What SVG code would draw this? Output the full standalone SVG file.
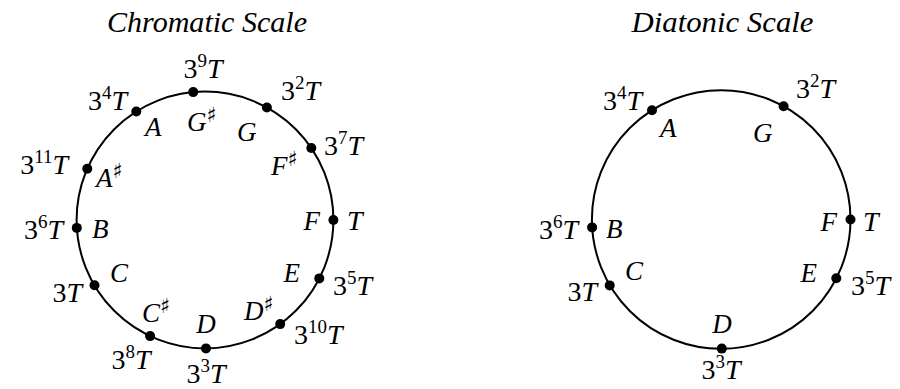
<svg xmlns="http://www.w3.org/2000/svg" width="900" height="389" viewBox="0 0 900 389">
<style>
.title{font-style:italic;font-size:29px;fill:#000;text-anchor:middle}
.p{font-size:28px;fill:#000}
.n{font-style:italic;font-size:27px;fill:#000}
.it{font-style:italic}
.sup{font-size:19px;font-style:normal}
.sh{font-family:"DejaVu Serif","DejaVu Sans",serif;font-size:21px;font-style:normal;fill:#000}
.ring{fill:none;stroke:#000;stroke-width:2}
.dot{fill:#000}
.m{text-anchor:middle}
.e{text-anchor:end}
</style>
<rect width="900" height="389" fill="#fff"/>
<g font-family="Liberation Serif, Times New Roman, Times, serif">
<text class="title" x="207" y="32" textLength="200" lengthAdjust="spacingAndGlyphs">Chromatic Scale</text>
<text class="title" x="722.5" y="32" textLength="182" lengthAdjust="spacingAndGlyphs">Diatonic Scale</text>
<g id="connectors">
<circle class="ring" cx="205" cy="220" r="128.4"/>
<circle class="ring" cx="721.2" cy="219.5" r="129.3"/>
</g>
<g id="c-F"><circle class="dot" cx="333.4" cy="220" r="5"/><text class="n e" x="320" y="230">F</text><text class="p" x="347" y="230"><tspan class="it">T</tspan></text></g>
<g id="c-C"><circle class="dot" cx="94.5" cy="285.3" r="5"/><text class="n" x="110" y="282">C</text><text class="p e" x="82" y="302">3<tspan class="it">T</tspan></text></g>
<g id="c-G"><circle class="dot" cx="266.9" cy="107.5" r="5"/><text class="n" x="237" y="141">G</text><text class="p" x="281" y="100">3<tspan class="sup" dy="-11">2</tspan><tspan class="it" dy="11">T</tspan></text></g>
<g id="c-D"><circle class="dot" cx="206" cy="348.4" r="5"/><text class="n m" x="206" y="333">D</text><text class="p m" x="206" y="383">3<tspan class="sup" dy="-11">3</tspan><tspan class="it" dy="11">T</tspan></text></g>
<g id="c-A"><circle class="dot" cx="136.3" cy="111.5" r="5"/><text class="n" x="145" y="136">A</text><text class="p e" x="127" y="110">3<tspan class="sup" dy="-11">4</tspan><tspan class="it" dy="11">T</tspan></text></g>
<g id="c-E"><circle class="dot" cx="319.3" cy="278.4" r="5"/><text class="n e" x="300" y="282">E</text><text class="p" x="333" y="295">3<tspan class="sup" dy="-11">5</tspan><tspan class="it" dy="11">T</tspan></text></g>
<g id="c-B"><circle class="dot" cx="76.8" cy="227.9" r="5"/><text class="n" x="92" y="238">B</text><text class="p e" x="63" y="239">3<tspan class="sup" dy="-11">6</tspan><tspan class="it" dy="11">T</tspan></text></g>
<g id="c-Fs"><circle class="dot" cx="311.3" cy="148" r="5"/><text class="n" x="271" y="175">F<tspan class="sh" dy="-9">♯</tspan></text><text class="p" x="324" y="155">3<tspan class="sup" dy="-11">7</tspan><tspan class="it" dy="11">T</tspan></text></g>
<g id="c-Cs"><circle class="dot" cx="150.1" cy="336.1" r="5"/><text class="n" x="142" y="322">C<tspan class="sh" dy="-9">♯</tspan></text><text class="p m" x="131" y="369">3<tspan class="sup" dy="-11">8</tspan><tspan class="it" dy="11">T</tspan></text></g>
<g id="c-Gs"><circle class="dot" cx="193.2" cy="92.1" r="5"/><text class="n" x="187" y="131">G<tspan class="sh" dy="-9">♯</tspan></text><text class="p m" x="203" y="78">3<tspan class="sup" dy="-11">9</tspan><tspan class="it" dy="11">T</tspan></text></g>
<g id="c-Ds"><circle class="dot" cx="280.2" cy="324.1" r="5"/><text class="n" x="244" y="320">D<tspan class="sh" dy="-9">♯</tspan></text><text class="p" x="294" y="344">3<tspan class="sup" dy="-11">10</tspan><tspan class="it" dy="11">T</tspan></text></g>
<g id="c-As"><circle class="dot" cx="87.3" cy="168.7" r="5"/><text class="n" x="96" y="187">A<tspan class="sh" dy="-9">♯</tspan></text><text class="p e" x="68" y="174">3<tspan class="sup" dy="-11">11</tspan><tspan class="it" dy="11">T</tspan></text></g>
<g id="d-F"><circle class="dot" cx="850.5" cy="219.5" r="5"/><text class="n e" x="837" y="231">F</text><text class="p" x="863" y="231"><tspan class="it">T</tspan></text></g>
<g id="d-C"><circle class="dot" cx="609.7" cy="285.4" r="5"/><text class="n" x="625" y="280">C</text><text class="p e" x="597" y="301">3<tspan class="it">T</tspan></text></g>
<g id="d-G"><circle class="dot" cx="783.6" cy="106.3" r="5"/><text class="n" x="753" y="142">G</text><text class="p" x="796" y="98">3<tspan class="sup" dy="-11">2</tspan><tspan class="it" dy="11">T</tspan></text></g>
<g id="d-D"><circle class="dot" cx="721.8" cy="348.6" r="5"/><text class="n m" x="722" y="333">D</text><text class="p m" x="721" y="379">3<tspan class="sup" dy="-11">3</tspan><tspan class="it" dy="11">T</tspan></text></g>
<g id="d-A"><circle class="dot" cx="652" cy="110.3" r="5"/><text class="n" x="660" y="137">A</text><text class="p e" x="642" y="110">3<tspan class="sup" dy="-11">4</tspan><tspan class="it" dy="11">T</tspan></text></g>
<g id="d-E"><circle class="dot" cx="836.3" cy="278.3" r="5"/><text class="n e" x="817" y="282">E</text><text class="p" x="851" y="295">3<tspan class="sup" dy="-11">5</tspan><tspan class="it" dy="11">T</tspan></text></g>
<g id="d-B"><circle class="dot" cx="592.1" cy="227.4" r="5"/><text class="n" x="606" y="238">B</text><text class="p e" x="578" y="239">3<tspan class="sup" dy="-11">6</tspan><tspan class="it" dy="11">T</tspan></text></g>
</g>
</svg>
